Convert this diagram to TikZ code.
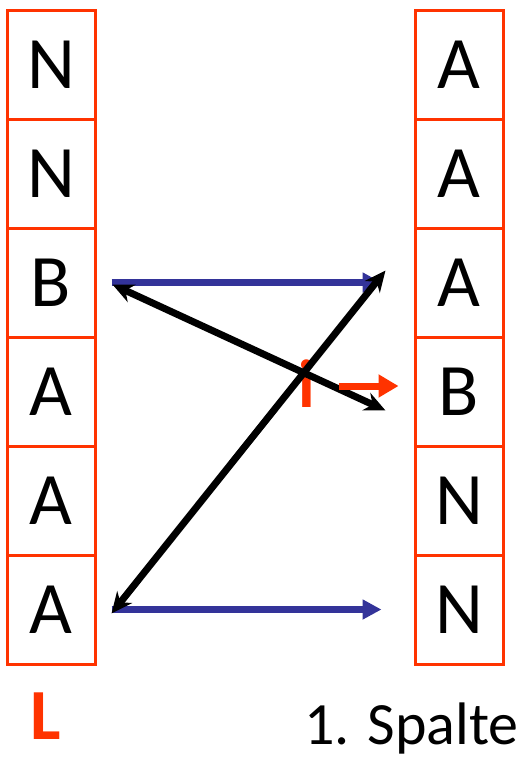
\documentclass[tikz,border=0pt]{standalone}
\usepackage{fontspec}
\setmainfont{Carlito}
\usetikzlibrary{arrows.meta,positioning}
\definecolor{lred}{RGB}{255,51,0}
\definecolor{lblue}{RGB}{51,51,153}

\begin{document}
\begin{tikzpicture}[x=1pt, y=-1pt,
    cell/.style={draw=lred, line width=3pt, minimum width=88pt, minimum height=109pt,
                 inner sep=0pt, font=\fontsize{74}{74}\selectfont},
    moveline/.style={-{Triangle[length=19pt, width=19pt]}, lblue, line width=6.5pt},
    swapline/.style={{Stealth[length=21pt, width=19pt]}-{Stealth[length=21pt, width=19pt]},
                     black, line width=7pt},
    ptrline/.style={-{Triangle[length=20pt, width=22pt]}, lred, line width=7pt}
]
\useasboundingbox (0,0) rectangle (523,758);

% Input column L
\node[cell] (l1) at (51, 64.5)  {N};
\node[cell] (l2) at (51, 173.5) {N};
\node[cell] (l3) at (51, 282.5) {B};
\node[cell] (l4) at (51, 391.5) {A};
\node[cell] (l5) at (51, 500.5) {A};
\node[cell] (l6) at (51, 609.5) {A};

% Sorted column
\node[cell] (r1) at (459, 64.5)  {A};
\node[cell] (r2) at (459, 173.5) {A};
\node[cell] (r3) at (459, 282.5) {A};
\node[cell] (r4) at (459, 391.5) {B};
\node[cell] (r5) at (459, 500.5) {N};
\node[cell] (r6) at (459, 609.5) {N};

% Labels
\node[text=lred, font=\fontsize{72}{72}\selectfont\bfseries] (lab_l) at (46, 716) {L};
\node[anchor=base east, inner sep=0pt, font=\fontsize{60}{60}\selectfont] (lab_sp) at (519, 744) {1. Spalte};
\node[text=lred, font=\fontsize{68}{68}\selectfont\bfseries] (lab_i) at (307, 384) {i};

% Moves
\draw[moveline] ([xshift=15pt]l3.east) -- ([xshift=-32pt]r3.west);
\draw[moveline] ([xshift=15pt]l6.east) -- ([xshift=-32pt]r6.west);

% Swaps
\draw[swapline] ([xshift=16pt, yshift=-2pt]l3.east) -- ([xshift=-28pt, yshift=-19pt]r4.west);
\draw[swapline] ([xshift=15pt, yshift=-4pt]l6.east) -- ([xshift=-28pt, yshift=12pt]r3.west);

% Pointer i
\coordinate (ptr) at (339, 386);
\draw[ptrline, shorten >=15pt] (ptr) -- (r4.west |- ptr);

\end{tikzpicture}
\end{document}
